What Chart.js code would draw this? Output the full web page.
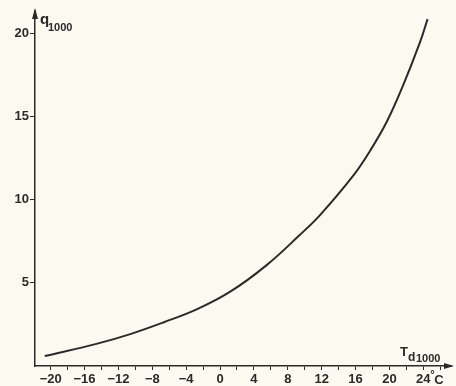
<!DOCTYPE html>
<html><head><meta charset="utf-8">
<script src="https://cdn.jsdelivr.net/npm/chart.js@4.4.1/dist/chart.umd.min.js"></script>
<style>
html,body{margin:0;padding:0;background:#fbfaf0;}
#wrap{width:456px;height:386px;position:relative;}
</style>
</head><body><div id="wrap"><canvas id="c"></canvas></div>
<script>
// Dew point at 1000 hPa (°C) and specific humidity q1000 (g/kg)
const dewPoint = [-20.7,-14.6,-10.6,-6.7,-2.7,1.2,5.5,9.4,11.8,15.7,17.7,19.7,21.6,23.6,24.5];
const humidity = [0.6,1.33,1.92,2.62,3.42,4.47,6.07,7.88,9.08,11.44,12.94,14.71,16.87,19.47,20.87];
const xTickValues = [-20,-18,-16,-14,-12,-10,-8,-6,-4,-2,0,2,4,6,8,10,12,14,16,18,20,22,24,26];
const xTickLabels = ['−20','','−16','','−12','','−8','','−4','','0','','4','','8','','12','','16','','20','','24',''];
const yTickValues = [5,10,15,20];
const yTickLabels = ['5','10','15','20'];

const INK = '#2a2a2a';
const PAPER = '#fbfaf0';
const tickFont = {family:'Liberation Sans', size:13, weight:'bold'};

const decor = {
  id:'decor',
  beforeDraw(chart){
    const c = chart.ctx;
    c.save(); c.fillStyle = PAPER; c.fillRect(0,0,chart.width,chart.height); c.restore();
  },
  afterDraw(chart){
    const c = chart.ctx, a = chart.chartArea;
    c.save();
    c.fillStyle = INK; c.strokeStyle = INK; c.lineWidth = 1.5;
    // y arrow
    c.beginPath(); c.moveTo(a.left, a.top); c.lineTo(a.left, a.top-2); c.stroke();
    c.beginPath(); c.moveTo(a.left, a.top-4); c.lineTo(a.left-3, a.top+7); c.lineTo(a.left+3, a.top+7); c.closePath(); c.fill();
    // x arrow
    c.beginPath(); c.moveTo(a.right, a.bottom); c.lineTo(a.right+2, a.bottom); c.stroke();
    c.beginPath(); c.moveTo(a.right+4, a.bottom); c.lineTo(a.right-6, a.bottom-3); c.lineTo(a.right-6, a.bottom+3); c.closePath(); c.fill();
    // y title q1000
    c.textBaseline = 'alphabetic'; c.textAlign = 'left';
    c.font = 'bold 15px "Liberation Sans"';
    c.fillText('q', a.left+5, a.top+12);
    c.font = 'bold 11px "Liberation Sans"';
    c.fillText('1000', a.left+13, a.top+19);
    // x title Td1000
    c.font = 'bold 13px "Liberation Sans"';
    c.fillText('T', a.right-50, a.bottom-10);
    c.font = 'bold 12px "Liberation Sans"';
    c.fillText('d', a.right-42, a.bottom-5);
    c.font = 'bold 11px "Liberation Sans"';
    c.fillText('1000', a.right-34, a.bottom-4);
    // unit °C after last label
    const xs = chart.scales.x;
    const px = xs.getPixelForValue(24);
    c.font = 'bold 11px "Liberation Sans"';
    c.fillText('°', px+7, a.bottom+12);
    c.font = 'bold 13px "Liberation Sans"';
    c.fillText('C', px+11, a.bottom+18);
    c.restore();
  }
};

new Chart(document.getElementById('c'), {
  type:'line',
  data:{datasets:[{
    data: dewPoint.map((x,i)=>({x, y:humidity[i]})),
    borderColor: INK, borderWidth: 2, pointRadius: 0,
    tension: 0.4, fill:false
  }]},
  options:{
    responsive:true, maintainAspectRatio:false, animation:false,
    layout:{padding:{left:0,right:6,top:12,bottom:0}},
    plugins:{legend:{display:false}, tooltip:{enabled:false}},
    scales:{
      x:{type:'linear', min:-21.85, max:27.15,
        afterBuildTicks(s){ s.ticks = xTickValues.map(v=>({value:v})); },
        afterFit(s){ s.height = 20; },
        ticks:{ autoSkip:false, maxRotation:0, padding:2, color:INK, font:tickFont,
          callback(v){ const i = xTickValues.indexOf(v); return i>=0 ? xTickLabels[i] : ''; } },
        grid:{display:true, drawOnChartArea:false, drawTicks:true, tickLength:4, color:INK, lineWidth:1},
        border:{display:true, color:INK, width:1.5}
      },
      y:{type:'linear', min:0, max:21.3,
        afterBuildTicks(s){ s.ticks = yTickValues.map(v=>({value:v})); },
        afterFit(s){ s.width = 35; },
        ticks:{ autoSkip:false, padding:1, color:INK, font:tickFont,
          callback(v){ const i = yTickValues.indexOf(v); return i>=0 ? yTickLabels[i] : ''; } },
        grid:{display:true, drawOnChartArea:false, drawTicks:true, tickLength:5, color:INK, lineWidth:1},
        border:{display:true, color:INK, width:1.5}
      }
    }
  },
  plugins:[decor]
});
</script>
</body></html>
